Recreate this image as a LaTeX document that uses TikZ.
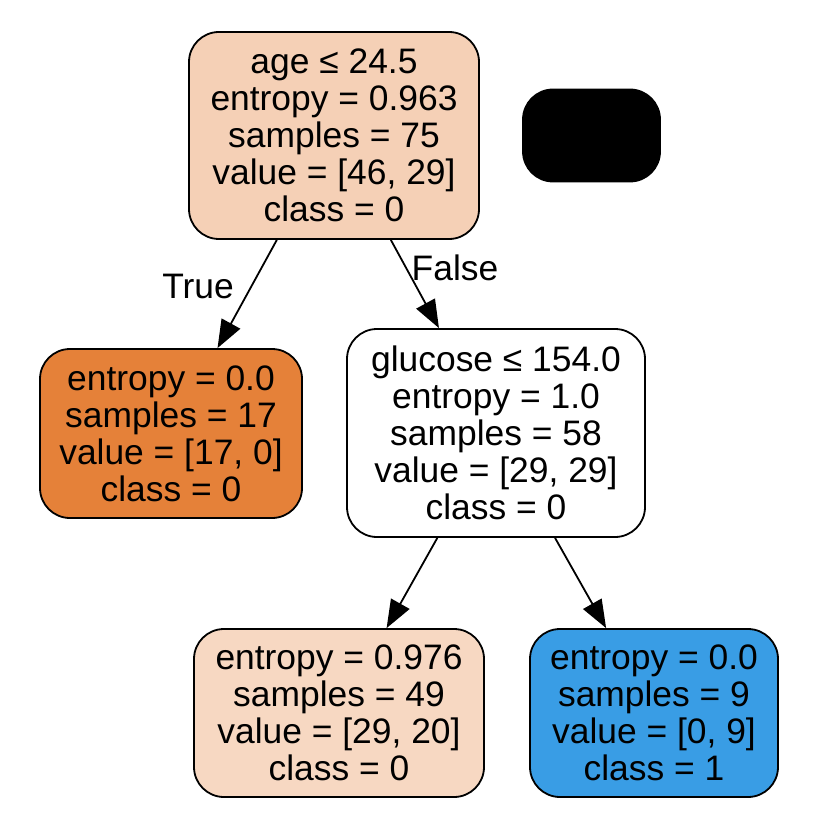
\documentclass[tikz,border=0pt]{standalone}
\usepackage{fontspec}
\setmainfont{Liberation Sans}
\usetikzlibrary{arrows.meta}
\definecolor{rootc}{RGB}{245,208,182}
\definecolor{orangec}{RGB}{229,129,57}
\definecolor{lightc}{RGB}{247,216,194}
\definecolor{bluec}{RGB}{57,157,229}
\tikzset{
  treenode/.style={draw=black, line width=1.8pt, rounded corners=30pt, align=center,
    font=\fontsize{35.4}{37}\selectfont, inner sep=0pt},
  edge/.style={draw=black, line width=1.8pt, -{Triangle[length=28pt,width=21pt]}},
  elabel/.style={font=\fontsize{35.4}{37}\selectfont, inner sep=0pt}
}
\begin{document}
\begin{tikzpicture}[x=1pt,y=-1pt]
\useasboundingbox (0,0) rectangle (822,826);
\node[treenode, fill=rootc, minimum width=290pt, minimum height=207pt] (root) at (334,135.5)
  {age ≤ 24.5\\entropy = 0.963\\samples = 75\\value = [46, 29]\\class = 0};
\node[treenode, fill=black, minimum width=137pt, minimum height=92pt] (blk) at (591.5,135.5) {};
\node[treenode, fill=orangec, minimum width=262pt, minimum height=169pt] (ll) at (171,433.5)
  {entropy = 0.0\\samples = 17\\value = [17, 0]\\class = 0};
\node[treenode, fill=white, minimum width=298pt, minimum height=208pt] (mid) at (496,433)
  {glucose ≤ 154.0\\entropy = 1.0\\samples = 58\\value = [29, 29]\\class = 0};
\node[treenode, fill=lightc, minimum width=290pt, minimum height=168pt] (bl) at (339,713)
  {entropy = 0.976\\samples = 49\\value = [29, 20]\\class = 0};
\node[treenode, fill=bluec, minimum width=248pt, minimum height=168pt] (br) at (654,713)
  {entropy = 0.0\\samples = 9\\value = [0, 9]\\class = 1};
\draw[edge] (root) -- (ll);
\draw[edge] (root) -- (mid);
\draw[edge] (mid) -- (bl);
\draw[edge] (mid) -- (br);
\node[elabel] (tl) at (198,286.5) {True};
\node[elabel] (fl) at (455,267.5) {False};
\end{tikzpicture}
\end{document}
